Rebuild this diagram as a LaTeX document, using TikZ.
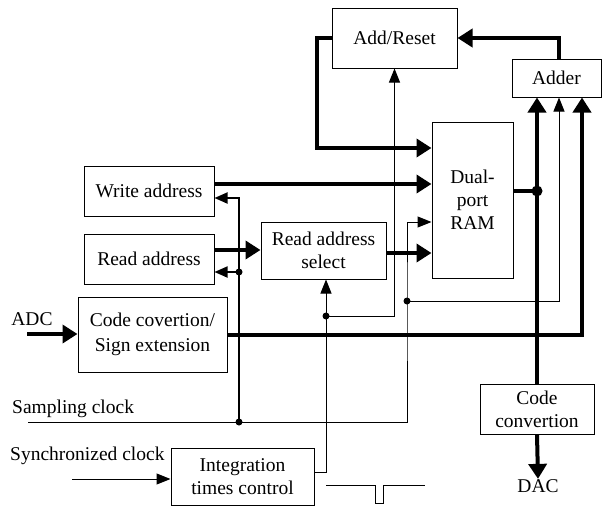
\documentclass[tikz,border=0pt]{standalone}
\usepackage{fontspec}
\setmainfont{Liberation Serif}
\usetikzlibrary{arrows.meta}
\begin{document}
\begin{tikzpicture}[x=1pt,y=-1pt,
  box/.style={draw,line width=1pt,align=center,inner sep=0pt,font=\fontsize{19.5}{23}\selectfont},
  lbl/.style={inner sep=0pt,font=\fontsize{19.5}{23}\selectfont},
  thk/.style={line width=4pt,-{Triangle[length=15pt,width=18pt]}},
  thkl/.style={line width=4pt},
  thn/.style={line width=1pt,-{Triangle[length=14pt,width=11pt]}},
  thnl/.style={line width=1pt},
  med/.style={line width=1.8pt,-{Triangle[length=13pt,width=11pt]}},
  medl/.style={line width=1.8pt},
  dot/.style={circle,fill,inner sep=0pt,minimum size=7pt},
  bigdot/.style={circle,fill,inner sep=0pt,minimum size=11pt}]
\useasboundingbox (0,0) rectangle (602,506);

% blocks
\node[box,minimum width=125pt,minimum height=60pt] (ar) at (394.5,38) {Add/Reset};
\node[box,minimum width=89pt,minimum height=38pt] (adder) at (556.5,78) {Adder};
\node[box,minimum width=81pt,minimum height=156pt] (ram) at (472.5,200) {Dual-\\port\\RAM};
\node[box,minimum width=130pt,minimum height=50pt] (wa) at (149,191) {Write address};
\node[box,minimum width=130pt,minimum height=50pt] (ra) at (149,259) {Read address};
\node[box,minimum width=125pt,minimum height=57pt] (ras) at (323.5,250.5) {Read address\\select};
\node[box,minimum width=149pt,minimum height=75pt,font=\fontsize{19.5}{25}\selectfont] (cc) at (152.5,334.5) {Code covertion/\\Sign extension};
\node[box,minimum width=143pt,minimum height=57pt] (itc) at (242.5,476.5) {Integration\\times control};
\node[box,minimum width=114pt,minimum height=50pt] (cv) at (537,409) {Code\\convertion};

% labels
\node[lbl,anchor=base] (adc) at (32,325) {ADC};
\node[lbl,anchor=base] (dac) at (538,492) {DAC};
\node[lbl,anchor=base west] (sclab) at (12,413) {Sampling clock};
\node[lbl,anchor=base west] (synlab) at (10,460) {Synchronized clock};

% junction coordinates
\coordinate (sc) at (28,422);
\coordinate (syn) at (72,479);
\coordinate (j1) at (537,191);
\coordinate (j2) at (239,422);
\coordinate (j3) at (239,272);
\coordinate (j4) at (407,301);
\coordinate (j5) at (326,316);
\coordinate (adcin) at (27,334);

% thick data paths
\draw[thk] ([xshift=2.5pt]adder.north) |- (ar.east);
\draw[thk] (ar.west) -- ++(-15,0) |- ([yshift=52pt]ram.west);
\draw[thk] ([yshift=7pt]wa.east) -- ([yshift=7pt]wa.east -| ram.west);
\draw[thk] ([yshift=9pt]ra.east) -- ([yshift=9pt]ra.east -| ras.west);
\draw[thk] ([yshift=-2.5pt]ras.east) -- ([yshift=-2.5pt]ras.east -| ram.west);
\draw[thk] (adcin) -- (adcin -| cc.west);
\draw[thk] (cc.east) -| ([xshift=25.5pt]adder.south);
\draw[thkl] ([yshift=9pt]ram.east) -- (j1);
\draw[thk] (cv.north) -- (cv.north |- adder.south);
\draw[thk] (cv.south) -- (dac.north);

% clock paths
\draw[thn] (sc) -| (j4) |- ([yshift=-22pt]ram.west);
\draw[thn] (j4) -| ([xshift=2.5pt]adder.south);
\draw[med] (j2) |- ([yshift=-7pt]wa.east);
\draw[med] (j3) -- (j3 -| ra.east);
\draw[thn] (syn) -- (syn -| itc.west);
\draw[thn] ([yshift=4.5pt]itc.east) -| ([xshift=2.5pt]ras.south);
\draw[thn] (j5) -| (ar.south);

% pulse
\draw[thnl] (326,485) -- (375,485) -- (375,503) -- (383,503) -- (383,485) -- (425,485);

% dots
\node[bigdot] at (j1) {};
\node[dot] at (j2) {};
\node[dot] at (j3) {};
\node[dot] at (j4) {};
\node[dot] at (j5) {};
\end{tikzpicture}
\end{document}
